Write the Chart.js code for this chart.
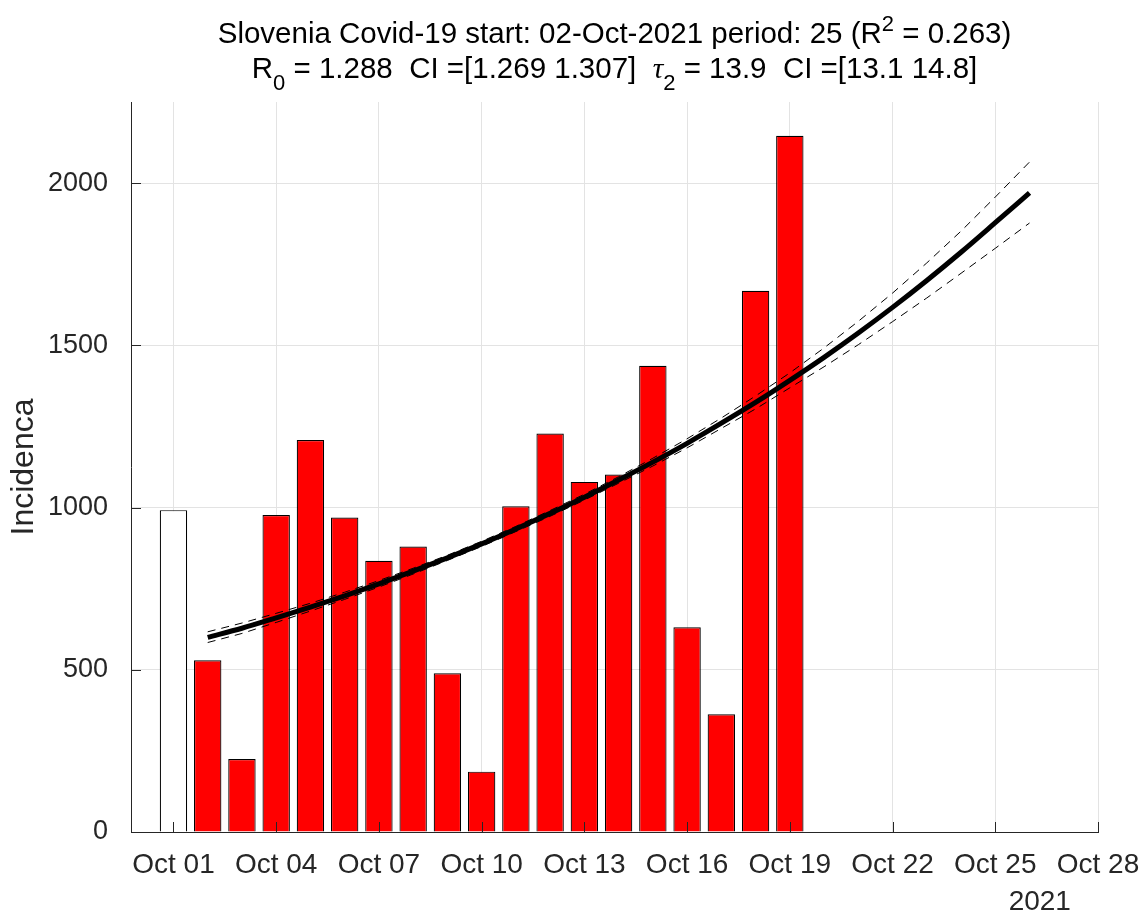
<!DOCTYPE html>
<html><head><meta charset="utf-8">
<script src="https://cdn.jsdelivr.net/npm/chart.js@4"></script>
<style>html,body{margin:0;padding:0;background:#fff}#wrap{width:1144px;height:916px}</style>
</head><body><div id="wrap"><canvas id="c" width="1144" height="916"></canvas></div>
<script>
// ---- data (day offsets: 0 = Oct 01, 2021) ----
const barDays = [0,1,2,3,4,5,6,7,8,9,10,11,12,13,14,15,16,17,18];
const incidence = [992,529,225,977,1208,969,836,880,489,186,1004,1228,1079,1102,1437,631,363,1668,2146];
const barColors = ['#ffffff','#ff0000','#ff0000','#ff0000','#ff0000','#ff0000','#ff0000','#ff0000','#ff0000','#ff0000','#ff0000','#ff0000','#ff0000','#ff0000','#ff0000','#ff0000','#ff0000','#ff0000','#ff0000'];
const fitDays = [1,2,3,4,5,6,7,8,9,10,11,12,13,14,15,16,17,18,19,20,21,22,23,24,25];
const fitValues = [600,628,660,693,728,765,804,845,888,934,982,1032,1085,1140,1198,1260,1324,1392,1463,1538,1617,1700,1787,1878,1970];
const ciUpper = [617,644,674,705,739,775,813,853,896,942,991,1041,1095,1152,1212,1276,1344,1415,1492,1574,1661,1754,1852,1957,2065];
const ciLower = [584,612,646,681,717,755,795,837,880,926,973,1023,1075,1128,1184,1244,1304,1369,1434,1502,1573,1646,1722,1799,1877];
const xTickDays = [0,3,6,9,12,15,18,21,24,27];
const yTickValues = [0,500,1000,1500,2000];
const monthName = 'Oct';
const yearLabel = '2021';
const yAxisTitle = 'Incidenca';
const titleLine1 = [{t:'Slovenia Covid-19 start: 02-Oct-2021 period: 25 (R'},{t:'2',sup:true},{t:' = 0.263)'}];
const titleLine2 = [{t:'R'},{t:'0',sub:true},{t:' = 1.288  CI =[1.269 1.307]  '},{t:'τ',italic:true,serif:true},{t:'2',sub:true},{t:' = 13.9  CI =[13.1 14.8]'}];

const FAM = '"Liberation Sans", Arial, Helvetica, sans-serif';
const TXT = '#262626';

function pts(xs, ys){ return xs.map((x,i)=>({x:x, y:ys[i]})); }

function drawRich(ctx, segs, cx, baseline, size){
  const fontOf = s => {
    const sz = (s.sub||s.sup) ? Math.round(size*0.76) : size;
    const fam = s.serif ? '"Liberation Serif", "DejaVu Serif", serif' : FAM;
    return (s.italic?'italic ':'') + sz + 'px ' + fam;
  };
  let w = 0;
  segs.forEach(s=>{ ctx.font = fontOf(s); s._w = ctx.measureText(s.t).width; w += s._w; });
  let x = cx - w/2;
  ctx.textAlign = 'left'; ctx.textBaseline = 'alphabetic'; ctx.fillStyle = '#000';
  segs.forEach(s=>{
    ctx.font = fontOf(s);
    const dy = s.sub ? size*0.42 : (s.sup ? -size*0.42 : 0);
    ctx.fillText(s.t, x, baseline + dy);
    x += s._w;
  });
}

const decor = {
  id: 'decor',
  afterDatasetsDraw(chart){
    const ctx = chart.ctx, a = chart.chartArea;
    const xs = chart.scales.x, ys = chart.scales.y;
    ctx.save();
    ctx.strokeStyle = TXT; ctx.lineWidth = 1;
    ctx.beginPath();
    xTickDays.forEach(d=>{ const p = Math.round(xs.getPixelForValue(d))+0.5; ctx.moveTo(p, a.bottom); ctx.lineTo(p, a.bottom-10); });
    yTickValues.forEach(v=>{ const p = Math.round(ys.getPixelForValue(v))+0.5; ctx.moveTo(a.left, p); ctx.lineTo(a.left+10, p); });
    ctx.stroke();
    ctx.restore();
  },
  afterDraw(chart){
    const ctx = chart.ctx, a = chart.chartArea;
    ctx.save();
    const cx = (a.left + a.right)/2;
    drawRich(ctx, titleLine1, cx, 43, 29.5);
    drawRich(ctx, titleLine2, cx, 78, 29.5);
    ctx.font = '28px ' + FAM; ctx.fillStyle = TXT; ctx.textAlign = 'center'; ctx.textBaseline = 'middle';
    ctx.fillText(yearLabel, chart.scales.x.getPixelForValue(25.3), 902);
    ctx.restore();
  }
};

new Chart(document.getElementById('c'), {
  data: {
    datasets: [
      { type:'line', label:'fit', data: pts(fitDays, fitValues), borderColor:'#000', borderWidth:5, pointRadius:0, fill:false, order:1, cubicInterpolationMode:'monotone' },
      { type:'line', label:'ci upper', data: pts(fitDays, ciUpper), borderColor:'#000', borderWidth:1, borderDash:[8,6], pointRadius:0, fill:false, order:2 },
      { type:'line', label:'ci lower', data: pts(fitDays, ciLower), borderColor:'#000', borderWidth:1, borderDash:[8,6], pointRadius:0, fill:false, order:2 },
      { type:'bar', label:'incidence', data: pts(barDays, incidence), backgroundColor: barColors, borderColor:'#000', borderWidth:1.2, barPercentage:0.8, categoryPercentage:1.0, order:3 }
    ]
  },
  options: {
    responsive:false, animation:false, devicePixelRatio:1,
    layout:{ padding:{ top:102, right:46, left:0, bottom:0 } },
    plugins:{ legend:{display:false}, tooltip:{enabled:false}, title:{display:false} },
    scales:{
      x:{
        type:'linear', min:-1.24, max:27, offset:false,
        afterBuildTicks: s => { s.ticks = xTickDays.map(v=>({value:v})); },
        afterFit: s => { s.height = 84; s.paddingLeft = 0; s.paddingRight = 0; },
        grid:{ color:'#e3e3e3', lineWidth:1, drawTicks:false, offset:false },
        border:{ display:true, color:TXT, width:1 },
        ticks:{ padding:16, color:TXT, font:{family:FAM, size:28}, maxRotation:0, autoSkip:false,
          callback: v => monthName + ' ' + String(v+1).padStart(2,'0') }
      },
      y:{
        type:'linear', min:0, max:2250,
        afterBuildTicks: s => { s.ticks = yTickValues.map(v=>({value:v})); },
        afterFit: s => { s.width = 131; s.paddingTop = 0; s.paddingBottom = 0; },
        grid:{ color:'#e3e3e3', lineWidth:1, drawTicks:false, offset:false },
        border:{ display:true, color:TXT, width:1 },
        ticks:{ padding:23, color:TXT, font:{family:FAM, size:27}, callback: v => String(v) },
        title:{ display:true, text:yAxisTitle, color:TXT, font:{family:FAM, size:32}, padding:{top:5, bottom:0} }
      }
    }
  },
  plugins:[decor]
});
</script></body></html>
